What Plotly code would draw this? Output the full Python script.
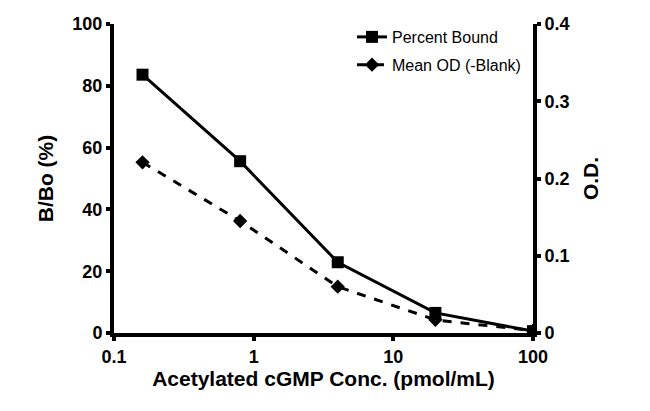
import plotly.graph_objects as go

conc = [0.16, 0.8, 4, 20, 100]
percent_bound = [83.6, 55.6, 22.9, 6.5, 0.6]
mean_od = [0.221, 0.145, 0.060, 0.017, 0.003]

x_ticks = [0.1, 1, 10, 100]
x_labels = ["0.1", "1", "10", "100"]
y_ticks = [0, 20, 40, 60, 80, 100]
y2_ticks = [0, 0.1, 0.2, 0.3, 0.4]
y2_labels = ["0", "0.1", "0.2", "0.3", "0.4"]

fig = go.Figure()

fig.add_trace(go.Scatter(x=conc, y=percent_bound, name="Percent Bound",
                         mode="lines+markers", legendgroup="pb",
                         line=dict(color="black", width=3),
                         marker=dict(symbol="square", size=12, color="black")))

fig.add_trace(go.Scatter(x=conc, y=mean_od, name="Mean OD (-Blank)",
                         mode="lines+markers", yaxis="y2", legendgroup="od",
                         line=dict(color="black", width=3, dash="dash"),
                         marker=dict(symbol="diamond", size=11, color="black")))

tickfont = dict(family="Liberation Sans, Arial", size=18, color="black", weight="bold")
titlefont = dict(family="Liberation Sans, Arial", size=21, color="black", weight="bold")

axis_common = dict(showgrid=False, zeroline=False, showline=True, linecolor="black",
                   linewidth=4, ticks="outside", ticklen=4, tickwidth=4,
                   tickcolor="black", tickfont=tickfont, automargin=False)

# page body has an 8px default margin, so the plot area is nudged up/left
fig.update_layout(
    width=650, height=411,
    margin=dict(l=106, r=125, t=14, b=86),
    plot_bgcolor="white", paper_bgcolor="white",
    xaxis=dict(type="log", range=[-1, 2], tickvals=x_ticks, ticktext=x_labels,
               title=dict(text="Acetylated cGMP Conc. (pmol/mL)",
                          font=titlefont, standoff=4), **axis_common),
    yaxis=dict(range=[0, 100], tickvals=y_ticks,
               title=dict(text="B/Bo (%)", font=titlefont, standoff=14),
               **axis_common),
    yaxis2=dict(range=[0, 0.4], tickvals=y2_ticks, ticktext=y2_labels,
                overlaying="y", side="right",
                title=dict(text="O.D.", font=titlefont, standoff=16),
                **axis_common),
    legend=dict(x=0.568, y=1.013, xanchor="left", yanchor="top",
                bgcolor="rgba(0,0,0,0)", traceorder="grouped", tracegroupgap=4,
                font=dict(family="Liberation Sans, Arial", size=16, color="black")),
    showlegend=True,
)

fig.write_html("out.html")
